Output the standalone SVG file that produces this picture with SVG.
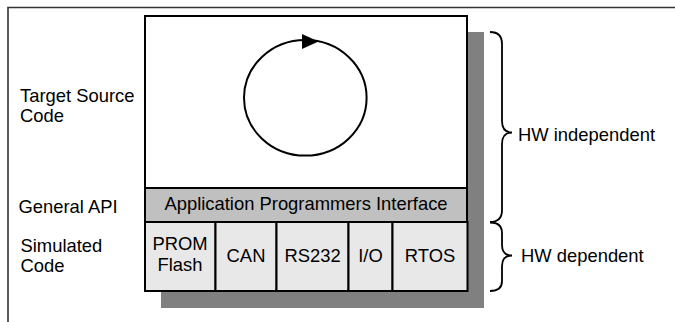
<svg xmlns="http://www.w3.org/2000/svg" width="675" height="322" viewBox="0 0 675 322">
<style>
text{font-family:"Liberation Sans",Arial,sans-serif;font-size:18.4px;fill:#000}
.c{text-anchor:middle}
.box{stroke:#000;stroke-width:2}
.brace{fill:none;stroke:#000;stroke-width:1.8}
</style>
<rect width="675" height="322" fill="#fff"/>
<g id="frame">
<path d="M8,322 V7.5 H675" fill="none" stroke="#333" stroke-width="1.6"/>
</g>
<g id="shadow">
<rect x="161" y="32" width="323" height="276" fill="#808080"/>
</g>
<g id="target-source">
<rect class="box" x="145" y="16" width="322" height="172" fill="#fff"/>
<ellipse cx="305.3" cy="97.8" rx="61.3" ry="57.8" fill="none" stroke="#000" stroke-width="2"/>
<polygon points="302,34 318.5,41.5 302,49" fill="#000"/>
</g>
<g id="api">
<rect class="box" x="145" y="188" width="322" height="34" fill="#c0c0c0"/>
<text class="c" x="306" y="210">Application Programmers Interface</text>
</g>
<g id="prom">
<rect class="box" x="145" y="222" width="70.5" height="69" fill="#e8e8e8"/>
<text class="c" x="180" y="250">PROM</text>
<text class="c" x="180" y="270.5">Flash</text>
</g>
<g id="can">
<rect class="box" x="215.5" y="222" width="61" height="69" fill="#e8e8e8"/>
<text class="c" x="246" y="261.5">CAN</text>
</g>
<g id="rs232">
<rect class="box" x="276.5" y="222" width="72" height="69" fill="#e8e8e8"/>
<text class="c" x="312.5" y="261.5">RS232</text>
</g>
<g id="io">
<rect class="box" x="348.5" y="222" width="44" height="69" fill="#e8e8e8"/>
<text class="c" x="370.5" y="261.5">I/O</text>
</g>
<g id="rtos">
<rect class="box" x="392.5" y="222" width="75" height="69" fill="#e8e8e8"/>
<text class="c" x="430" y="261.5">RTOS</text>
</g>
<g id="labels">
<text x="20" y="101.7">Target Source</text>
<text x="20" y="121.7">Code</text>
<text x="18.5" y="213.3">General API</text>
<text x="20.5" y="252.3">Simulated</text>
<text x="20.5" y="272.3">Code</text>
</g>
<g id="connectors">
<path class="brace" d="M490,32 Q502,32 502,44 L502,121 Q502,132.5 512,132.5 Q502,132.5 502,144 L502,210 Q502,222 490,222"/>
<path class="brace" d="M490,222.5 Q502,222.5 502,233 L502,245 Q502,255.5 512,255.5 Q502,255.5 502,266 L502,281 Q502,291 490,291"/>
</g>
<g id="hw-independent">
<text x="518" y="140.5">HW independent</text>
</g>
<g id="hw-dependent">
<text x="521" y="261.5">HW dependent</text>
</g>
</svg>
